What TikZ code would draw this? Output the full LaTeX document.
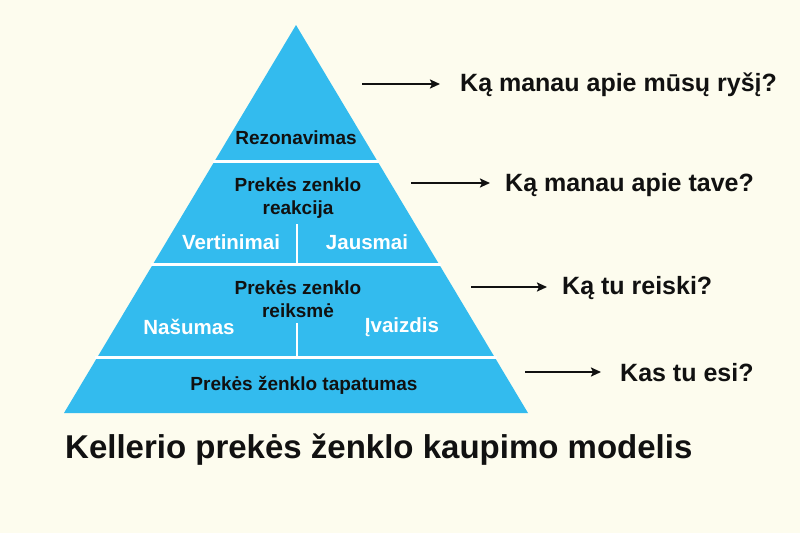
\documentclass[tikz,border=0pt]{standalone}
\usepackage{fontspec}
\setmainfont{Liberation Sans}
\usetikzlibrary{arrows.meta}
\definecolor{bg}{HTML}{FDFCEE}
\definecolor{pblue}{HTML}{33BBEE}
\definecolor{ink}{HTML}{111111}
\begin{document}
\begin{tikzpicture}[x=1pt,y=-1pt,
  lab/.style={inner sep=0pt,font=\bfseries\fontsize{19}{23}\selectfont,text=ink,align=center},
  sublab/.style={inner sep=0pt,font=\bfseries\fontsize{20.5}{23}\selectfont,text=white},
  q/.style={inner sep=0pt,anchor=west,font=\bfseries\fontsize{25}{29}\selectfont,text=ink},
  sep/.style={white,line width=3pt},
  vsep/.style={white,line width=1.5pt},
  arr/.style={ink,line width=2pt,-{Stealth[length=10pt,width=9pt,inset=2pt]}}]
\fill[bg] (0,0) rectangle (800,533);
\useasboundingbox (0,0) rectangle (800,533);
% pyramid
\fill[pblue] (296,25) -- (528,413) -- (64,413) -- cycle;
\draw[sep] (213,161) -- (379,161);
\draw[sep] (151,264) -- (441,264);
\draw[sep] (95,357) -- (497,357);
\draw[vsep] (297,224) -- (297,264);
\draw[vsep] (297,323) -- (297,357);
% labels inside
\node[lab] (rez) at (296,138) {Rezonavimas};
\node[lab] (rea) at (298,198) {Prekės zenklo\\reakcija};
\node[sublab] (ver) at (231,242) {Vertinimai};
\node[sublab] (jau) at (367,242) {Jausmai};
\node[lab] (rei) at (298,299) {Prekės zenklo\\reiksmė};
\node[sublab] (nas) at (189,327) {Našumas};
\node[sublab] (iva) at (402,327) {Įvaizdis};
\node[lab] (tap) at (304,385) {Prekės ženklo tapatumas};
% questions
\node[q] (q1) at (460,85) {Ką manau apie mūsų ryšį?};
\node[q] (q2) at (505,185) {Ką manau apie tave?};
\node[q] (q3) at (562,288) {Ką tu reiski?};
\node[q] (q4) at (620,373) {Kas tu esi?};
\coordinate (a1) at (362,84);
\coordinate (a2) at (411,183);
\coordinate (a3) at (471,287);
\coordinate (a4) at (525,372);
\draw[arr] (a1) -- ([xshift=-20pt]q1.west |- a1);
\draw[arr] (a2) -- ([xshift=-15pt]q2.west |- a2);
\draw[arr] (a3) -- ([xshift=-15pt]q3.west |- a3);
\draw[arr] (a4) -- ([xshift=-19pt]q4.west |- a4);
% title
\node[inner sep=0pt,anchor=west,font=\bfseries\fontsize{33}{38}\selectfont,text=ink] (title) at (65,450) {Kellerio prekės ženklo kaupimo modelis};
\end{tikzpicture}
\end{document}
